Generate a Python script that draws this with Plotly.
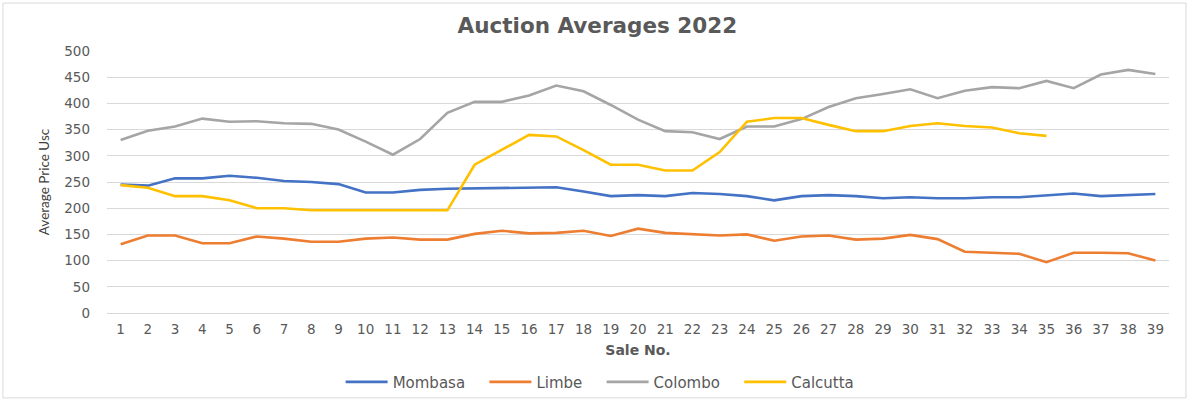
import plotly.graph_objects as go

sale_no = list(range(1, 40))

mombasa = [245, 243, 257, 257, 262, 258, 252, 250, 246, 230, 230, 235, 237, 238, 238, 240, 240, 232, 223, 225,
           223, 229, 227, 223, 215, 223, 225, 223, 219, 221, 219, 219, 221, 221, 225, 228, 223, 225, 227]
limbe = [131, 148, 148, 133, 133, 146, 142, 136, 136, 142, 144, 140, 140, 151, 157, 152, 153, 157, 147, 161,
         153, 150, 148, 150, 138, 146, 148, 140, 142, 149, 141, 117, 115, 113, 97, 115, 115, 114, 100]
colombo = [330, 348, 356, 371, 365, 366, 362, 361, 350, 327, 302, 332, 382, 403, 403, 415, 434, 423, 397, 369,
           347, 345, 332, 356, 356, 370, 393, 410, 418, 427, 410, 424, 431, 429, 443, 429, 455, 464, 456]
calcutta = [244, 239, 223, 223, 215, 200, 200, 196, 196, 196, 196, 196, 196, 283, 312, 340, 337, 311, 283, 283,
            272, 272, 307, 365, 372, 372, 359, 347, 347, 357, 362, 357, 354, 343, 338]

series = [
    ("Mombasa", mombasa, "#4472C4"),
    ("Limbe", limbe, "#ED7D31"),
    ("Colombo", colombo, "#A5A5A5"),
    ("Calcutta", calcutta, "#FFC000"),
]

fig = go.Figure()
for name, vals, color in series:
    fig.add_trace(go.Scatter(
        x=sale_no[:len(vals)], y=vals, mode="lines", name=name + "\u00a0\u00a0\u00a0",
        line=dict(color=color, width=2.6),
    ))

FONT = "DejaVu Sans, sans-serif"
TXT = "#595959"

fig.update_layout(
    width=1190, height=401,
    margin=dict(l=107, r=21, t=51, b=88, autoexpand=False),
    paper_bgcolor="white", plot_bgcolor="white",
    font=dict(family=FONT, color=TXT, size=12),
    title=dict(text="<b>Auction Averages 2022</b>", x=0.502, xanchor="center", y=0.937, yanchor="middle",
               font=dict(family=FONT, size=21.5, color=TXT)),
    showlegend=True,
    legend=dict(orientation="h", x=0.22, xanchor="left", yref="container", y=0.047, yanchor="middle",
                font=dict(family=FONT, size=15, color=TXT), tracegroupgap=0, itemwidth=42,
                bgcolor="rgba(0,0,0,0)"),
    xaxis=dict(
        automargin=False,
        range=[0.5, 39.5], tickmode="array", tickvals=sale_no, ticktext=[str(v) for v in sale_no],
        showgrid=False, zeroline=False, showline=True, linecolor="#D9D9D9", linewidth=1,
        ticks="", tickfont=dict(family=FONT, size=13.5, color=TXT), ticklabelstandoff=4,
        title=dict(text="<b>Sale No.</b>", font=dict(family=FONT, size=14, color=TXT), standoff=8),
    ),
    yaxis=dict(
        automargin=False,
        range=[0, 500], dtick=50, showgrid=True, gridcolor="#D9D9D9", gridwidth=1,
        zeroline=False, showline=False, ticks="",
        tickfont=dict(family=FONT, size=13.5, color=TXT), ticklabelstandoff=16,
        title=dict(text="Average Price Usc", font=dict(family="Lato, sans-serif", size=13.5, color="#404040"), standoff=11),
    ),
    shapes=[dict(type="rect", xref="paper", yref="paper",
                 x0=-0.098, x1=1.016, y0=-0.324, y1=1.183,
                 line=dict(color="#D9D9D9", width=1), fillcolor="rgba(0,0,0,0)", layer="below")],
)

fig.write_html("out.html", config={"displayModeBar": False},
               post_script="document.body.style.margin='0';document.body.style.overflow='hidden';")
